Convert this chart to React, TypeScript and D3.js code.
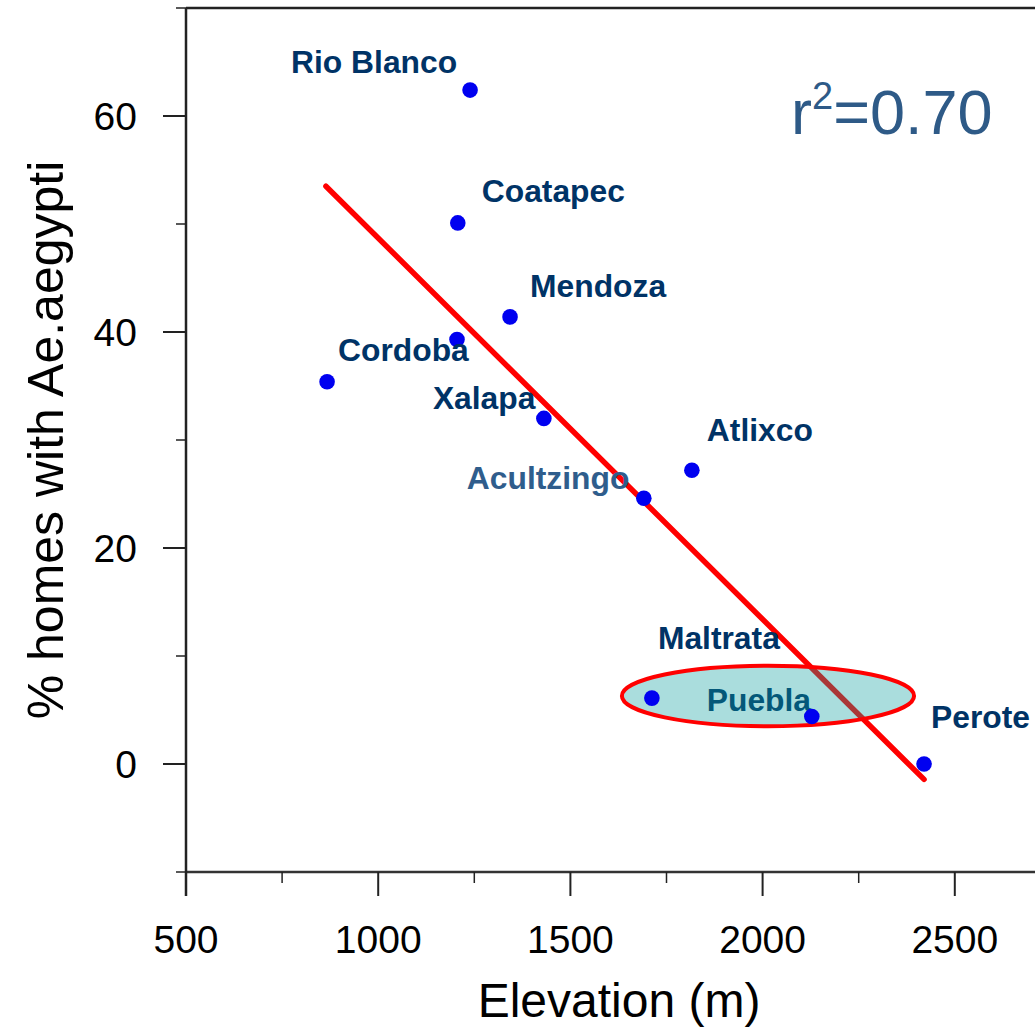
import React from "react";
import * as d3 from "d3";

const sites = ["Rio Blanco", "Coatapec", "Mendoza", "", "Cordoba", "Xalapa", "Atlixco", "Acultzingo", "Maltrata", "Puebla", "Perote"];
const elevation = [1239, 1207, 1343, 1205, 867, 1431, 1816, 1691, 1712, 2128, 2420];
const pctHomes = [62.4, 50.1, 41.4, 39.3, 35.4, 32.0, 27.2, 24.6, 6.1, 4.4, 0.0];

const xMajorTicks = [500, 1000, 1500, 2000, 2500];
const xMinorTicks = [750, 1250, 1750, 2250];
const yMajorTicks = [0, 20, 40, 60];
const yMinorTicks = [-10, 10, 30, 50, 70];

const fitIntercept = 84.0;
const fitSlope = -0.0353;
const fitRange = [864, 2420];
const rSquared = "0.70";

// ellipse highlighting the high-elevation group (data units)
const highlightCenter = [2014, 6.3];
const highlightRadii = [380, 2.8];

// label offsets in px relative to each point (layout only)
const labelOffsets: [number, number][] = [
  [-179, -17], [24, -21], [20, -20], [0, 0], [11, -21], [-111, -9],
  [15, -29], [-177, -9], [6, -49], [-105, -5], [7, -36],
];

const W = 1035, H = 1029;
const FONT = "'Liberation Sans', Arial, Helvetica, sans-serif";

export default function App() {
  const x = d3.scaleLinear().domain([500, 2750]).range([186, 186 + 2250 * 0.3844]);
  const y = d3.scaleLinear().domain([-10, 70]).range([872, 8]);
  const x0 = x(500), y0 = y(-10), yTop = y(70);
  const fitLine = d3.line<number>().x((d) => x(d)).y((d) => y(fitIntercept + fitSlope * d));

  const pts = elevation.map((e, i) => ({ e, p: pctHomes[i], name: sites[i], off: labelOffsets[i] }));
  const labelColor = (n: string) => (n === "Acultzingo" ? "#2f5d8c" : "#003366");

  const label = (d: typeof pts[number], i: number) =>
    d.name ? (
      <text key={i} x={x(d.e) + d.off[0]} y={y(d.p) + d.off[1]} fill={labelColor(d.name)}
        fontWeight="bold" fontSize={31.8} fontFamily={FONT}>{d.name}</text>
    ) : null;

  return (
    <svg width={W} height={H} style={{ position: "absolute", left: 0, top: 0, background: "#fff" }}>
      {/* frame */}
      <line x1={x0} x2={W + 20} y1={yTop} y2={yTop} stroke="#222" strokeWidth={2.5} />
      <line x1={x0} x2={W + 20} y1={y0} y2={y0} stroke="#333" strokeWidth={2.5} />
      <line x1={x0} x2={x0} y1={yTop} y2={y0 + 24} stroke="#222" strokeWidth={2.5} />
      {/* x ticks */}
      {xMajorTicks.map((t) => (
        <g key={"xm" + t}>
          <line x1={x(t)} x2={x(t)} y1={y0} y2={y0 + 24} stroke="#222" strokeWidth={2} />
          <text x={x(t)} y={y0 + 81} textAnchor="middle" fontSize={39} fontFamily={FONT} fill="#000">{t}</text>
        </g>
      ))}
      {xMinorTicks.map((t) => (
        <line key={"xn" + t} x1={x(t)} x2={x(t)} y1={y0} y2={y0 + 11} stroke="#222" strokeWidth={1.5} />
      ))}
      {/* y ticks */}
      {yMajorTicks.map((t) => (
        <g key={"ym" + t}>
          <line x1={x0 - 23} x2={x0} y1={y(t)} y2={y(t)} stroke="#222" strokeWidth={2} />
          <text x={137} y={y(t) + 14} textAnchor="end" fontSize={39} fontFamily={FONT} fill="#000">{t}</text>
        </g>
      ))}
      {yMinorTicks.map((t) => (
        <line key={"yn" + t} x1={x0 - 10} x2={x0} y1={y(t)} y2={y(t)} stroke="#222" strokeWidth={1.5} />
      ))}
      {/* axis titles */}
      <text x={619} y={1017} textAnchor="middle" fontSize={48} fontFamily={FONT} fill="#000">Elevation (m)</text>
      <text transform="translate(63,440) rotate(-90)" textAnchor="middle" fontSize={50} fontFamily={FONT} fill="#000">% homes with Ae.aegypti</text>

      {/* regression line */}
      <path d={fitLine(fitRange) || ""} stroke="#ff0000" strokeWidth={5.5} fill="none" strokeLinecap="round" />

      {/* labels under ellipse */}
      {pts.map((d, i) => (d.name === "Puebla" ? label(d, i) : null))}

      {/* highlight ellipse */}
      <ellipse cx={x(highlightCenter[0])} cy={y(highlightCenter[1])}
        rx={x(highlightCenter[0] + highlightRadii[0]) - x(highlightCenter[0])}
        ry={y(0) - y(highlightRadii[1])}
        fill="rgba(11,157,157,0.35)" stroke="#ff0000" strokeWidth={4} />

      {/* points */}
      {pts.map((d, i) => (
        <circle key={"c" + i} cx={x(d.e)} cy={y(d.p)} r={7.8} fill="#0000f0" />
      ))}
      {pts.map((d, i) => (d.name !== "Puebla" ? label(d, i) : null))}

      {/* r^2 */}
      <text x={791} y={134} fontSize={63} fontFamily={FONT} fill="#2e5a87">
        r<tspan dy={-25} fontSize={38}>2</tspan><tspan dy={25}>={rSquared}</tspan>
      </text>
    </svg>
  );
}
